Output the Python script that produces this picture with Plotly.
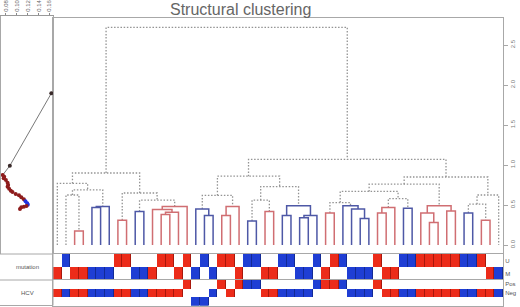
import plotly.graph_objects as go

W, H = 520, 307

# ---------------- data ----------------
# class of each leaf / column (R = red group, B = blue group)
leaf_class = list("RBRRBBBRRBBRRRRRBBBRRRBBRRBBBBBRRBBBBRRRBBRRRRRBBRRB")
# mutation status per column (U / M)
mutation = list("MUMMMMMUUMMMUUMUMUMUUMUUMMUUMMUMUUMMMUMMUUUUUUUUUUMM")
# HCV status per column (P = Pos, N = Neg, X = other)
hcv = list("NNNNNNNNNNNNNNNPXXNPNPPPNNNNNNPPPPNNNPNNNNNNNNNNNNNN")

mutation_levels = ["U", "M"]
hcv_levels = ["P", "N", "X"]
hcv_labels = ["Pos", "Neg", ""]

# hclust-style merges: negative = leaf (1-based), positive = earlier merge (1-based)
merge_left = [-3, -2, -5, 3, 2, -1, -8, -10, -13, 9, -12, 11, 8, 7, 6,
              -18, -17, -20, 18, 17, -23, -25, 21, -27, -29, 25, 24, 23, 20,
              -32, -36, -35, -34, 30, -38, 35, -41, 36, 34, -44, -43, -46, 41,
              39, -48, -50, 45, 47, 44, 29, 15]
merge_right = [-4, 1, -6, -7, 4, 5, -9, -11, -14, -15, 10, -16, 12, 13, 14,
               -19, 16, -21, -22, 19, -24, -26, 22, -28, -30, -31, 26, 27, 28,
               -33, -37, 31, 32, 33, -39, -40, -42, 37, 38, -45, 40, -47, 42,
               43, -49, -51, 46, -52, 48, 49, 50]
merge_height = [0.175, 0.625, 0.47, 0.48, 0.69, 0.77, 0.31, 0.42, 0.38, 0.41,
                0.445, 0.48, 0.56, 0.65, 0.90,
                0.37, 0.45, 0.37, 0.48, 0.62, 0.30, 0.42, 0.56, 0.37, 0.34,
                0.37, 0.49, 0.73, 0.86,
                0.40, 0.33, 0.45, 0.49, 0.53, 0.40, 0.47, 0.46, 0.58, 0.67,
                0.28, 0.40, 0.425, 0.49, 0.76, 0.40, 0.31, 0.51, 0.625, 0.85,
                1.07, 2.72]

height_ticks = [0.0, 0.5, 1.0, 1.5, 2.0, 2.5]

# side profile curve (value vs height)
side_value = [0.1634, 0.0872, 0.0741, 0.0769, 0.0759, 0.0800, 0.0831, 0.0841,
              0.0831, 0.0859, 0.0890, 0.0921, 0.0980, 0.1040, 0.1083, 0.1130,
              0.1160, 0.1191, 0.1202, 0.1178, 0.1130, 0.1083, 0.1058]
side_height = [1.896, 0.991, 0.875, 0.854, 0.834, 0.8125, 0.779, 0.75, 0.729,
               0.704, 0.679, 0.6625, 0.6375, 0.621, 0.596, 0.571, 0.546, 0.521,
               0.504, 0.4875, 0.479, 0.471, 0.45]
side_group = ["k", "k", "r", "r", "r", "r", "r", "r", "r", "r", "r", "r", "r",
              "r", "r", "r", "b", "b", "b", "r", "r", "r", "r"]
side_ticks = [0.08, 0.10, 0.12, 0.14, 0.16]

# ---------------- styles ----------------
RED_LINE = "#d06e72"
BLUE_LINE = "#4e58a6"
GRAY = "#939393"
FRAME = "#a8a8a8"
CELL_RED = "#ec2c1a"
CELL_BLUE = "#1f3ed4"
CELL_RED_D = "#a8180c"
CELL_BLUE_D = "#122a96"
FONT = "Liberation Sans, Arial, sans-serif"


def px_x(p):
    return p / W


def px_y(p):
    return 1 - p / H


# ---------------- dendrogram geometry ----------------
node_pos = {}
node_leaves = {}


def child_info(c):
    if c < 0:
        i = -c - 1
        return float(i), 0.0, {leaf_class[i]}
    return node_pos[c][0], node_pos[c][1], node_leaves[c]


segs = {"R": ([], []), "B": ([], []), "G": ([], [])}
for k, (a, b, h) in enumerate(zip(merge_left, merge_right, merge_height), start=1):
    xa, ha, la = child_info(a)
    xb, hb, lb = child_info(b)
    node_pos[k] = ((xa + xb) / 2, h)
    node_leaves[k] = la | lb
    style = list(node_leaves[k])[0] if len(node_leaves[k]) == 1 else "G"
    xs, ys = segs[style]
    xs += [xa, xa, xb, xb, None]
    ys += [ha, h, h, hb, None]

fig = go.Figure()

fig.add_trace(go.Scatter(x=segs["G"][0], y=segs["G"][1], mode="lines",
                         line=dict(color=GRAY, width=1.3, dash="1.5px,1.7px"),
                         xaxis="x", yaxis="y", hoverinfo="skip", showlegend=False))
fig.add_trace(go.Scatter(x=segs["R"][0], y=segs["R"][1], mode="lines",
                         line=dict(color=RED_LINE, width=1.5),
                         xaxis="x", yaxis="y", hoverinfo="skip", showlegend=False))
fig.add_trace(go.Scatter(x=segs["B"][0], y=segs["B"][1], mode="lines",
                         line=dict(color=BLUE_LINE, width=1.5),
                         xaxis="x", yaxis="y", hoverinfo="skip", showlegend=False))

# ---------------- side curve ----------------
gcol = {"k": "#3a2a2a", "r": "#8e1c1c", "b": "#2233dd"}
fig.add_trace(go.Scatter(x=side_value, y=side_height, mode="lines+markers",
                         line=dict(color="#555555", width=0.8),
                         marker=dict(size=4, color=[gcol[g] for g in side_group]),
                         xaxis="x2", yaxis="y2", hoverinfo="skip", showlegend=False))

# ---------------- heatmaps ----------------
code = {"R": 1, "B": 2}
cols = list(range(len(leaf_class)))
z_mut = [[code[leaf_class[i]] if mutation[i] == lv else 0 for i in cols] for lv in mutation_levels]
z_hcv = [[code[leaf_class[i]] if hcv[i] == lv else 0 for i in cols] for lv in hcv_levels]


def cscale(r, b):
    return [[0, "white"], [0.33, "white"], [0.33, r], [0.67, r], [0.67, b], [1, b]]


for z, xa, ya in [(z_mut, "x3", "y3"), (z_hcv, "x4", "y4")]:
    fig.add_trace(go.Heatmap(z=z, x=cols, y=list(range(len(z))), zmin=0, zmax=2,
                             colorscale=cscale(CELL_RED_D, CELL_BLUE_D), showscale=False,
                             xaxis=xa, yaxis=ya, hoverinfo="skip"))
    fig.add_trace(go.Heatmap(z=z, x=cols, y=list(range(len(z))), zmin=0, zmax=2,
                             colorscale=cscale(CELL_RED, CELL_BLUE), showscale=False,
                             xgap=1, ygap=0, xaxis=xa, yaxis=ya, hoverinfo="skip"))

# ---------------- layout ----------------
n = len(leaf_class)
main_xdom = [px_x(53), px_x(503)]
main_ydom = [px_y(254), px_y(18)]
ylo = (245 - 254) / 80.0

fig.update_layout(
    width=W, height=H, margin=dict(l=0, r=0, t=0, b=0, autoexpand=False),
    paper_bgcolor="white", plot_bgcolor="white",
    font=dict(family=FONT, color="#666666"),
    xaxis=dict(domain=main_xdom, range=[-0.5, n - 0.5], showgrid=False, zeroline=False,
               showticklabels=False, ticks="", showline=True, mirror=True,
               linecolor=FRAME, linewidth=1, anchor="y"),
    yaxis=dict(domain=main_ydom, range=[ylo, (245 - 18) / 80.0], showgrid=False,
               zeroline=False, side="right", anchor="x", tickvals=height_ticks,
               ticktext=["%.1f" % t for t in height_ticks], tickangle=-90,
               ticks="outside", ticklen=4, tickcolor=FRAME, tickfont=dict(size=6, color="#777"),
               showline=True, mirror=True, linecolor=FRAME, linewidth=1, automargin=False),
    xaxis2=dict(domain=[px_x(1), px_x(53)],
                range=[0.08 - 5 / 555.0, 0.08 + 48 / 555.0],
                side="top", anchor="y2", showgrid=False, zeroline=False,
                tickvals=side_ticks, ticktext=["%.2f" % t for t in side_ticks],
                tickangle=-90, ticks="outside", ticklen=2, tickcolor="#888",
                tickfont=dict(size=6, color="#666"), showline=True,
                linecolor="#999", linewidth=1, automargin=False),
    yaxis2=dict(domain=[px_y(254), px_y(16)], range=[ylo, (245 - 16) / 80.0],
                anchor="x2", showgrid=False, zeroline=False, showticklabels=False,
                ticks="", showline=True, mirror=True, linecolor=FRAME, linewidth=1),
    xaxis3=dict(domain=main_xdom, range=[-0.5, n - 0.5], anchor="y3",
                showgrid=False, zeroline=False, showticklabels=False, ticks="",
                showline=True, mirror=True, linecolor=FRAME, linewidth=1),
    yaxis3=dict(domain=[px_y(280), px_y(254)], range=[1.5, -0.5], anchor="x3",
                side="right", tickvals=[0, 1], ticktext=mutation_levels, ticks="",
                tickfont=dict(size=6, color="#555"), showgrid=False, zeroline=False,
                showline=True, mirror=True, linecolor=FRAME, linewidth=1, automargin=False),
    xaxis4=dict(domain=main_xdom, range=[-0.5, n - 0.5], anchor="y4",
                showgrid=False, zeroline=False, showticklabels=False, ticks="",
                showline=True, mirror=True, linecolor=FRAME, linewidth=1),
    yaxis4=dict(domain=[px_y(305.5), px_y(280)], range=[2.5, -0.5], anchor="x4",
                side="right", tickvals=[0, 1, 2], ticktext=hcv_labels, ticks="",
                tickfont=dict(size=6, color="#555"), showgrid=False, zeroline=False,
                showline=True, mirror=True, linecolor=FRAME, linewidth=1, automargin=False),
)

# label panel frame lines
for yy in [254, 280, 305.5]:
    fig.add_shape(type="line", xref="paper", yref="paper", x0=0, x1=px_x(53),
                  y0=px_y(yy), y1=px_y(yy), line=dict(color=FRAME, width=1))
fig.add_shape(type="line", xref="paper", yref="paper", x0=px_x(53), x1=px_x(53),
              y0=px_y(305.5), y1=px_y(254), line=dict(color=FRAME, width=1))

fig.add_annotation(text="Structural clustering", xref="paper", yref="paper",
                   x=px_x(240), y=px_y(9), xanchor="center", yanchor="middle",
                   showarrow=False, font=dict(size=16, color="#666666", family=FONT))
fig.add_annotation(text="mutation", xref="paper", yref="paper", x=px_x(27), y=px_y(267),
                   xanchor="center", yanchor="middle",
                   showarrow=False, font=dict(size=6, color="#555"))
fig.add_annotation(text="HCV", xref="paper", yref="paper", x=px_x(27), y=px_y(293),
                   xanchor="center", yanchor="middle",
                   showarrow=False, font=dict(size=6, color="#555"))

fig.write_html("out.html", config={"displayModeBar": False},
               post_script="document.body.style.margin='0px';document.body.style.overflow='hidden';")
